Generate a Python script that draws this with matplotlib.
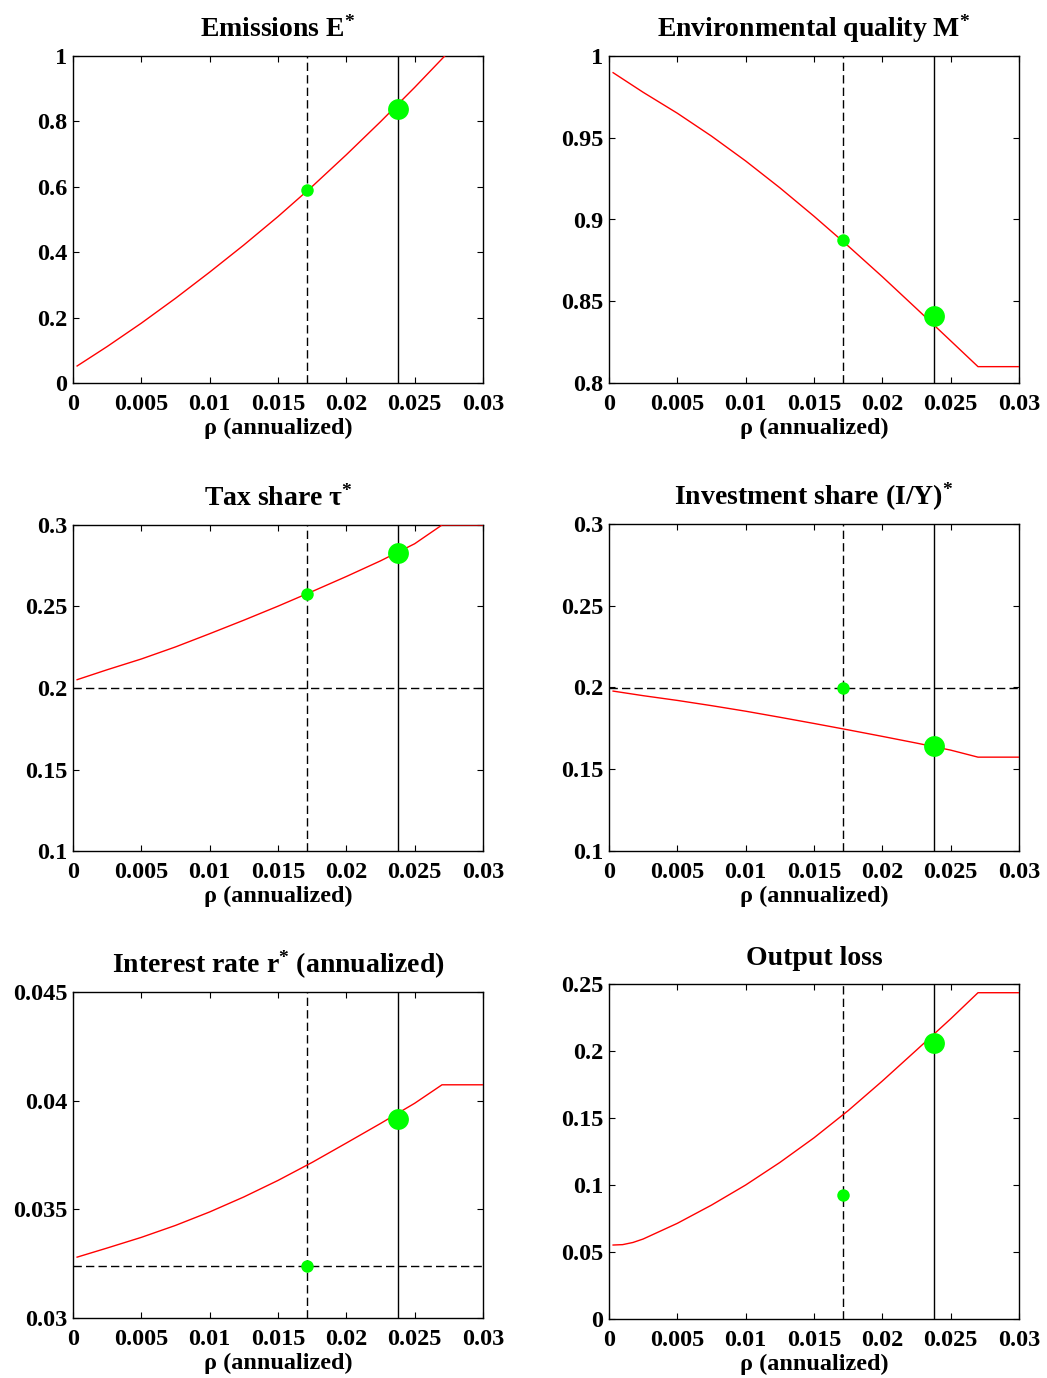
import numpy as np
import matplotlib
matplotlib.use("Agg")
import matplotlib.pyplot as plt
from matplotlib.ticker import FormatStrFormatter

plt.rcParams['font.family'] = ['Liberation Serif', 'DejaVu Serif']
plt.rcParams['font.weight'] = 'bold'
plt.rcParams['mathtext.fontset'] = 'custom'
plt.rcParams['mathtext.rm'] = 'Liberation Serif:bold'
plt.rcParams['mathtext.it'] = 'Liberation Serif:bold'
plt.rcParams['mathtext.bf'] = 'Liberation Serif:bold'

# rho grid (annualized)
rho = [0.0003, 0.0025, 0.005, 0.0075, 0.01, 0.0125, 0.015, 0.0175, 0.02, 0.0225, 0.025, 0.027, 0.03]
rho_E = [0.0003, 0.0025, 0.005, 0.0075, 0.01, 0.0125, 0.015, 0.0175, 0.02, 0.0225, 0.025, 0.0272]
rho_loss = [0.0003, 0.001, 0.00175, 0.0025, 0.005, 0.0075, 0.01, 0.0125, 0.015, 0.0175, 0.02, 0.0225, 0.025, 0.027, 0.03]

emissions = [0.052, 0.1115, 0.183, 0.259, 0.339, 0.422, 0.509, 0.601, 0.698, 0.799, 0.904, 1.0]
env_quality = [0.9898, 0.9778, 0.9650, 0.9510, 0.9358, 0.9194, 0.9020, 0.8838, 0.8650, 0.8455, 0.8258, 0.8100, 0.8100]
tax_share = [0.2051, 0.2112, 0.2178, 0.2252, 0.2333, 0.2416, 0.2502, 0.2592, 0.2684, 0.2780, 0.2885, 0.3000, 0.3000]
inv_share = [0.1978, 0.1950, 0.1921, 0.1889, 0.1855, 0.1818, 0.1780, 0.1741, 0.1701, 0.1660, 0.1617, 0.1574, 0.1574]
interest = [0.03280, 0.03322, 0.03371, 0.03426, 0.03488, 0.03557, 0.03633, 0.03716, 0.03805, 0.03895, 0.03988, 0.04073, 0.04073]
output_loss = [0.0552, 0.0555, 0.0571, 0.0597, 0.0714, 0.0850, 0.1000, 0.1168, 0.1352, 0.1555, 0.1776, 0.2007, 0.2240, 0.2435, 0.2435]

rho_dash = 0.0171
rho_solid = 0.0238
small_dots = [0.590, 0.8876, 0.2577, 0.200, 0.03239, 0.0923]
big_dots = [0.837, 0.8407, 0.2828, 0.1642, 0.03915, 0.2057]
hlines = [None, None, 0.2, 0.2, 0.03239, None]

titles = ['Emissions E$^{*}$', 'Environmental quality M$^{*}$', 'Tax share \u03c4$^{*}$',
          'Investment share (I/Y)$^{*}$', 'Interest rate r$^{*}$ (annualized)', 'Output loss']
ylims = [(0, 1), (0.8, 1), (0.1, 0.3), (0.1, 0.3), (0.03, 0.045), (0, 0.25)]
ysteps = [0.2, 0.05, 0.05, 0.05, 0.005, 0.05]

xs = [rho_E, rho, rho, rho, rho, rho_loss]
ys = [emissions, env_quality, tax_share, inv_share, interest, output_loss]

W, H = 1047, 1378
# axes boxes in pixels: left, top, right, bottom
boxes = [(73, 56, 483, 383), (609, 56, 1019, 383),
         (73, 525, 483, 851), (609, 524, 1019, 851),
         (73, 992, 483, 1318), (609, 984, 1019, 1319)]

fig = plt.figure(figsize=(W / 100, H / 100), dpi=100)

for i in range(6):
    l, t, r, b = boxes[i]
    ax = fig.add_axes([l / W, 1 - b / H, (r - l) / W, (b - t) / H])
    dash = (0, (6, 3))
    ax.axvline(rho_dash, color='k', lw=1.0, linestyle=dash, zorder=2)
    ax.axvline(rho_solid, color='k', lw=1.0, zorder=2)
    if hlines[i] is not None:
        ax.axhline(hlines[i], color='k', lw=1.0, linestyle=dash, zorder=2)
    ax.plot(xs[i], ys[i], color='red', lw=1.0, zorder=3)
    ax.plot([rho_dash], [small_dots[i]], 'o', color='#00ff00', ms=9, mew=0, zorder=4)
    ax.plot([rho_solid], [big_dots[i]], 'o', color='#00ff00', ms=15, mew=0, zorder=4)

    ax.set_xlim(0, 0.03)
    ax.set_ylim(*ylims[i])
    ax.set_xticks(np.arange(0, 0.0301, 0.005))
    lo, hi = ylims[i]
    ax.set_yticks(np.arange(lo, hi + ysteps[i] / 2, ysteps[i]))
    ax.xaxis.set_major_formatter(FormatStrFormatter('%g'))
    ax.yaxis.set_major_formatter(FormatStrFormatter('%g'))
    ax.tick_params(direction='in', length=4, width=0.8, top=True, right=True,
                   labelsize=17.5)
    ax.tick_params(axis='x', pad=8)
    ax.tick_params(axis='y', pad=4)
    for s in ax.spines.values():
        s.set_linewidth(1.0)
    ax.set_xlabel('\u03c1 (annualized)', fontsize=17.5, fontweight='bold', labelpad=2)
    ax.set_title(titles[i], fontsize=20, fontweight='bold', pad=14)

fig.savefig('out.png', dpi=100)
